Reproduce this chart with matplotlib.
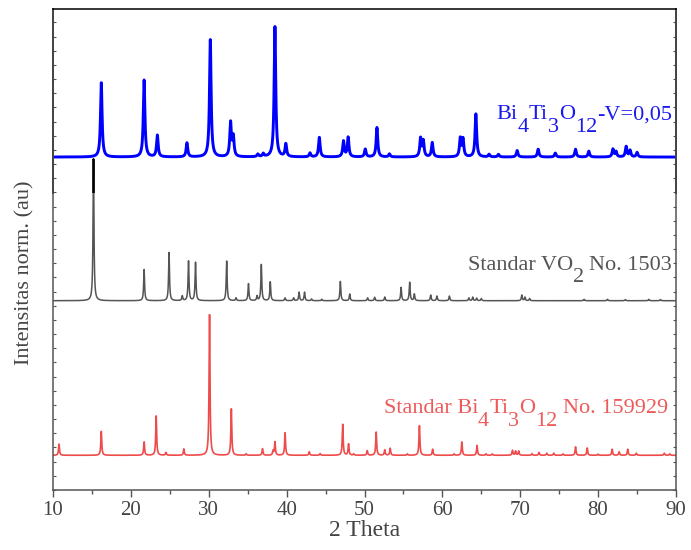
import numpy as np
import matplotlib
matplotlib.use("Agg")
import matplotlib.pyplot as plt
from matplotlib.ticker import MultipleLocator, NullFormatter

plt.rcParams['font.family'] = ['Liberation Serif', 'DejaVu Serif']

# peak positions (2 theta) and relative intensities (% of strongest peak)
red_pos = [10.77, 16.2, 21.7, 23.25, 24.5, 26.8, 30.1, 32.9, 34.8, 36.9, 38.25, 38.5,
           39.8, 42.9, 44.3, 47.2, 47.95, 48.6, 50.35, 51.5, 52.6, 53.3, 55.5, 57.05,
           58.75, 61.5, 62.5, 64.45, 65.6, 66.4, 69.0, 69.4, 69.8, 71.5, 72.4, 73.4,
           74.3, 75.5, 77.1, 78.6, 80.0, 81.8, 82.7, 83.8, 84.9, 88.5, 89.2]
red_int = [8, 17, 9.5, 28, 2, 4.5, 100, 33, 1, 4.7, 3, 9.5,
           16, 2.5, 1.2, 22, 8, 1, 3.3, 16.5, 3.8, 5, 1, 21,
           4.3, 1, 9.5, 7, 1, 1, 3.5, 3, 3, 1.2, 2, 1.5,
           1.5, 1, 6, 5.2, 0.8, 4.3, 2.5, 4.3, 1.5, 1.5, 1]

gray_pos = [15.2, 21.7, 24.9, 26.6, 27.4, 28.3, 32.3, 33.5, 35.1, 36.2, 36.75, 37.9,
            39.8, 40.9, 41.6, 42.3, 43.2, 44.5, 46.9, 48.1, 50.4, 51.3, 52.6, 54.7,
            55.8, 56.4, 58.5, 59.3, 60.9, 63.4, 63.9, 64.4, 65.0, 70.2, 70.6, 71.2,
            78.2, 81.2, 83.5, 86.5, 88.0]
gray_int = [100, 22, 34, 3.3, 28, 27, 28, 2, 12, 3.3, 25.5, 13.3,
            2, 2, 6, 6, 1.2, 1, 13.6, 4.7, 2, 2.4, 2.6, 9.4,
            13, 4.7, 4, 3.3, 3.3, 2, 2.5, 1.8, 1.5, 4, 2.5, 1.5,
            1, 1, 0.8, 1, 0.8]

blue_pos = [16.2, 21.7, 23.4, 27.2, 30.2, 32.8, 33.15, 36.3, 37.0, 38.5, 39.9, 43.0,
            44.2, 47.3, 47.9, 50.1, 51.6, 53.2, 57.2, 57.55, 58.7, 62.3, 62.65, 64.3,
            66.0, 67.2, 69.6, 72.3, 74.5, 77.1, 78.8, 81.9, 82.3, 83.6, 84.1, 85.0]
blue_int = [57, 59, 16.6, 10.8, 90, 26, 15, 2, 2.3, 100, 9.8, 3,
            15, 12, 15, 6, 22.6, 2.3, 14, 12, 11, 14, 13.5, 33,
            2, 2, 5, 6, 3, 6, 4.5, 6, 4, 8, 5, 3.5]

labels = ["Bi$_4$Ti$_3$O$_{12}$-V=0,05", "Standar VO$_2$ No. 1503",
          "Standar Bi$_4$Ti$_3$O$_{12}$ No. 159929"]

x = np.arange(10, 90.001, 0.01)


def pattern(pos, inten, w):
    y = np.zeros_like(x)
    for c, h in zip(pos, inten):
        y += h / (1 + ((x - c) / w) ** 2)
    return y


red = 2.45 + 0.0992 * pattern(red_pos, red_int, 0.07)
gray = 13.36 + 0.1 * pattern(gray_pos, gray_int, 0.07)
blue = 23.5 + 0.092 * pattern(blue_pos, blue_int, 0.12)

fig = plt.figure(figsize=(6.91, 5.5), dpi=100)
ax = fig.add_axes([53 / 691, 60 / 550, 623 / 691, 481 / 550])

ax.plot(x, red, color='#ee4b4b', lw=1.2)
ax.plot(x, gray, color='#555555', lw=1.1)
# upper part of the VO2 line is drawn black in the original
top_part = ax.plot(x, gray, color='black', lw=1.3)[0]
clip = plt.Rectangle((10, 20.96), 80, 20, transform=ax.transData)
top_part.set_clip_path(clip)
ax.plot(x, blue, color='#0000ff', lw=2.1)

ax.set_xlim(10, 90)
ax.set_ylim(0, 33.95)
ax.xaxis.set_major_locator(MultipleLocator(10))
ax.xaxis.set_minor_locator(MultipleLocator(5))
ax.yaxis.set_major_locator(MultipleLocator(1))
ax.yaxis.set_major_formatter(NullFormatter())
ax.tick_params(axis='x', which='major', direction='out', length=5, width=1,
               color='#555555', labelcolor='#444444', labelsize=15, pad=3)
ax.tick_params(axis='x', which='minor', direction='out', length=3, width=1,
               color='#555555')
ax.tick_params(axis='y', which='major', direction='in', length=2, width=0.8,
               color='#555555', right=True)
for sp in ax.spines.values():
    sp.set_color('#555555')
    sp.set_linewidth(1.1)
ax.spines['top'].set_color('black')
ax.plot([0, 0], [20.96, 33.95], color='black', lw=1.3, clip_on=False,
        transform=ax.get_yaxis_transform())
ax.plot([1, 1], [20.96, 33.95], color='black', lw=1.3, clip_on=False,
        transform=ax.get_yaxis_transform())

ax.set_xlabel('2 Theta', fontsize=17, color='#444444')
ax.xaxis.set_label_coords(0.5, -0.062)
ax.set_ylabel('Intensitas norm. (au)', fontsize=16, color='#444444')
ax.yaxis.set_label_coords(-0.03, 0.451)


def chem_label(xr, y, text, color, size=16, drop=9):
    # split text into normal / subscript pieces, subscripts drawn full size
    parts = []
    i = 0
    buf = ''
    while i < len(text):
        if text.startswith('$_', i):
            if buf:
                parts.append((buf, False))
                buf = ''
            j = i + 2
            if text[j] == '{':
                k = text.index('}', j)
                parts.append((text[j + 1:k], True))
                i = k + 2
            else:
                parts.append((text[j], True))
                i = j + 2
        else:
            buf += text[i]
            i += 1
    if buf:
        parts.append((buf, False))

    first = ax.text(xr, y, parts[0][0], color=color, fontsize=size,
                    ha='left', va='baseline')
    prev, prev_sub = first, parts[0][1]
    for s, sub in parts[1:]:
        dx = 0
        if s.startswith(' '):
            s = s.lstrip()
            dx = 0.25 * size
        dy = 0
        if sub and not prev_sub:
            dy = -drop
        elif prev_sub and not sub:
            dy = drop
        prev = ax.annotate(s, xy=(1, 0), xycoords=prev, xytext=(dx, dy),
                           textcoords='offset points', color=color,
                           fontsize=size, ha='left', va='bottom')
        prev_sub = sub
    return first, prev, xr


placed = [chem_label(89.5, 26.18, labels[0], '#1a1aee'),
          chem_label(89.5, 15.53, labels[1], '#555555'),
          chem_label(89.0, 5.41, labels[2], '#ee5a5a')]

fig.canvas.draw()
r = fig.canvas.get_renderer()
px_per_unit = ax.transData.transform((11, 0))[0] - ax.transData.transform((10, 0))[0]
for first, last, xr in placed:
    target = ax.transData.transform((xr, 0))[0]
    shift = target - last.get_window_extent(r).x1
    first.set_x(first.get_position()[0] + shift / px_per_unit)

fig.savefig('out.png', dpi=100)
